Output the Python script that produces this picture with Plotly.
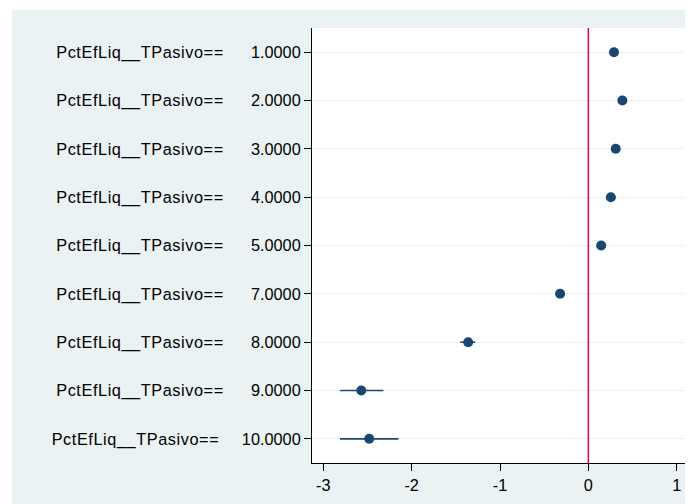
import plotly.graph_objects as go

levels = ["1.0000", "2.0000", "3.0000", "4.0000", "5.0000", "7.0000", "8.0000", "9.0000", "10.0000"]
coef = [0.29, 0.385, 0.31, 0.255, 0.145, -0.32, -1.36, -2.57, -2.48]
ci_low = [0.25, 0.35, 0.27, 0.22, 0.11, -0.36, -1.45, -2.81, -2.81]
ci_high = [0.33, 0.42, 0.35, 0.29, 0.18, -0.28, -1.28, -2.32, -2.15]
x_ticks = [-3, -2, -1, 0, 1]
x_tick_text = ["-3", "-2", "-1", "0", "1"]

NB = "\u00a0"
labels = []
for lv in levels:
    gap = 5 if len(lv) > 6 else 6
    labels.append('<span style="letter-spacing:0.58px">PctEfLiq__TPasivo==</span>'
                  + NB * gap + lv)

idx = list(range(len(levels)))
fig = go.Figure()
fig.add_trace(go.Scatter(
    x=coef, y=idx, mode="markers",
    marker=dict(color="#1A476F", size=10),
    error_x=dict(type="data", symmetric=False,
                 array=[h - c for h, c in zip(ci_high, coef)],
                 arrayminus=[c - l for c, l in zip(coef, ci_low)],
                 color="#1A476F", thickness=1.6, width=0),
    showlegend=False,
))

fig.add_shape(type="line", x0=0, x1=0, xref="x", y0=0, y1=1, yref="paper",
              line=dict(color="#D0103A", width=1.5))

# white strips outside the Stata-like panel (page has an 8px body margin)
fig.add_shape(type="rect", xref="paper", yref="paper", x0=-0.84, x1=1.02,
              y0=1 + 18 / 435, y1=1.08, fillcolor="white", line_width=0, layer="below")
fig.add_shape(type="rect", xref="paper", yref="paper", x0=-0.84, x1=-300 / 376,
              y0=-0.2, y1=1.08, fillcolor="white", line_width=0, layer="below")

fig.update_layout(
    width=685, height=496,
    margin=dict(l=304, r=5, t=20, b=41),
    paper_bgcolor="#EAF2F3", plot_bgcolor="white",
    font=dict(family="Liberation Sans, Arial, sans-serif", size=16.3, color="black"),
    xaxis=dict(range=[-3.128, 1.128], tickvals=x_ticks, ticktext=x_tick_text,
               ticks="outside", ticklen=7,
               tickcolor="black", showline=True, linecolor="black", linewidth=1,
               showgrid=False, zeroline=False),
    yaxis=dict(range=[8.5, -0.5], tickvals=idx, ticktext=labels, ticks="outside",
               ticklen=7, tickcolor="black", showline=True, linecolor="black", linewidth=1,
               showgrid=True, gridcolor="#EAF2F3", gridwidth=1.2, zeroline=False),
)

fig.write_html("out.html")
